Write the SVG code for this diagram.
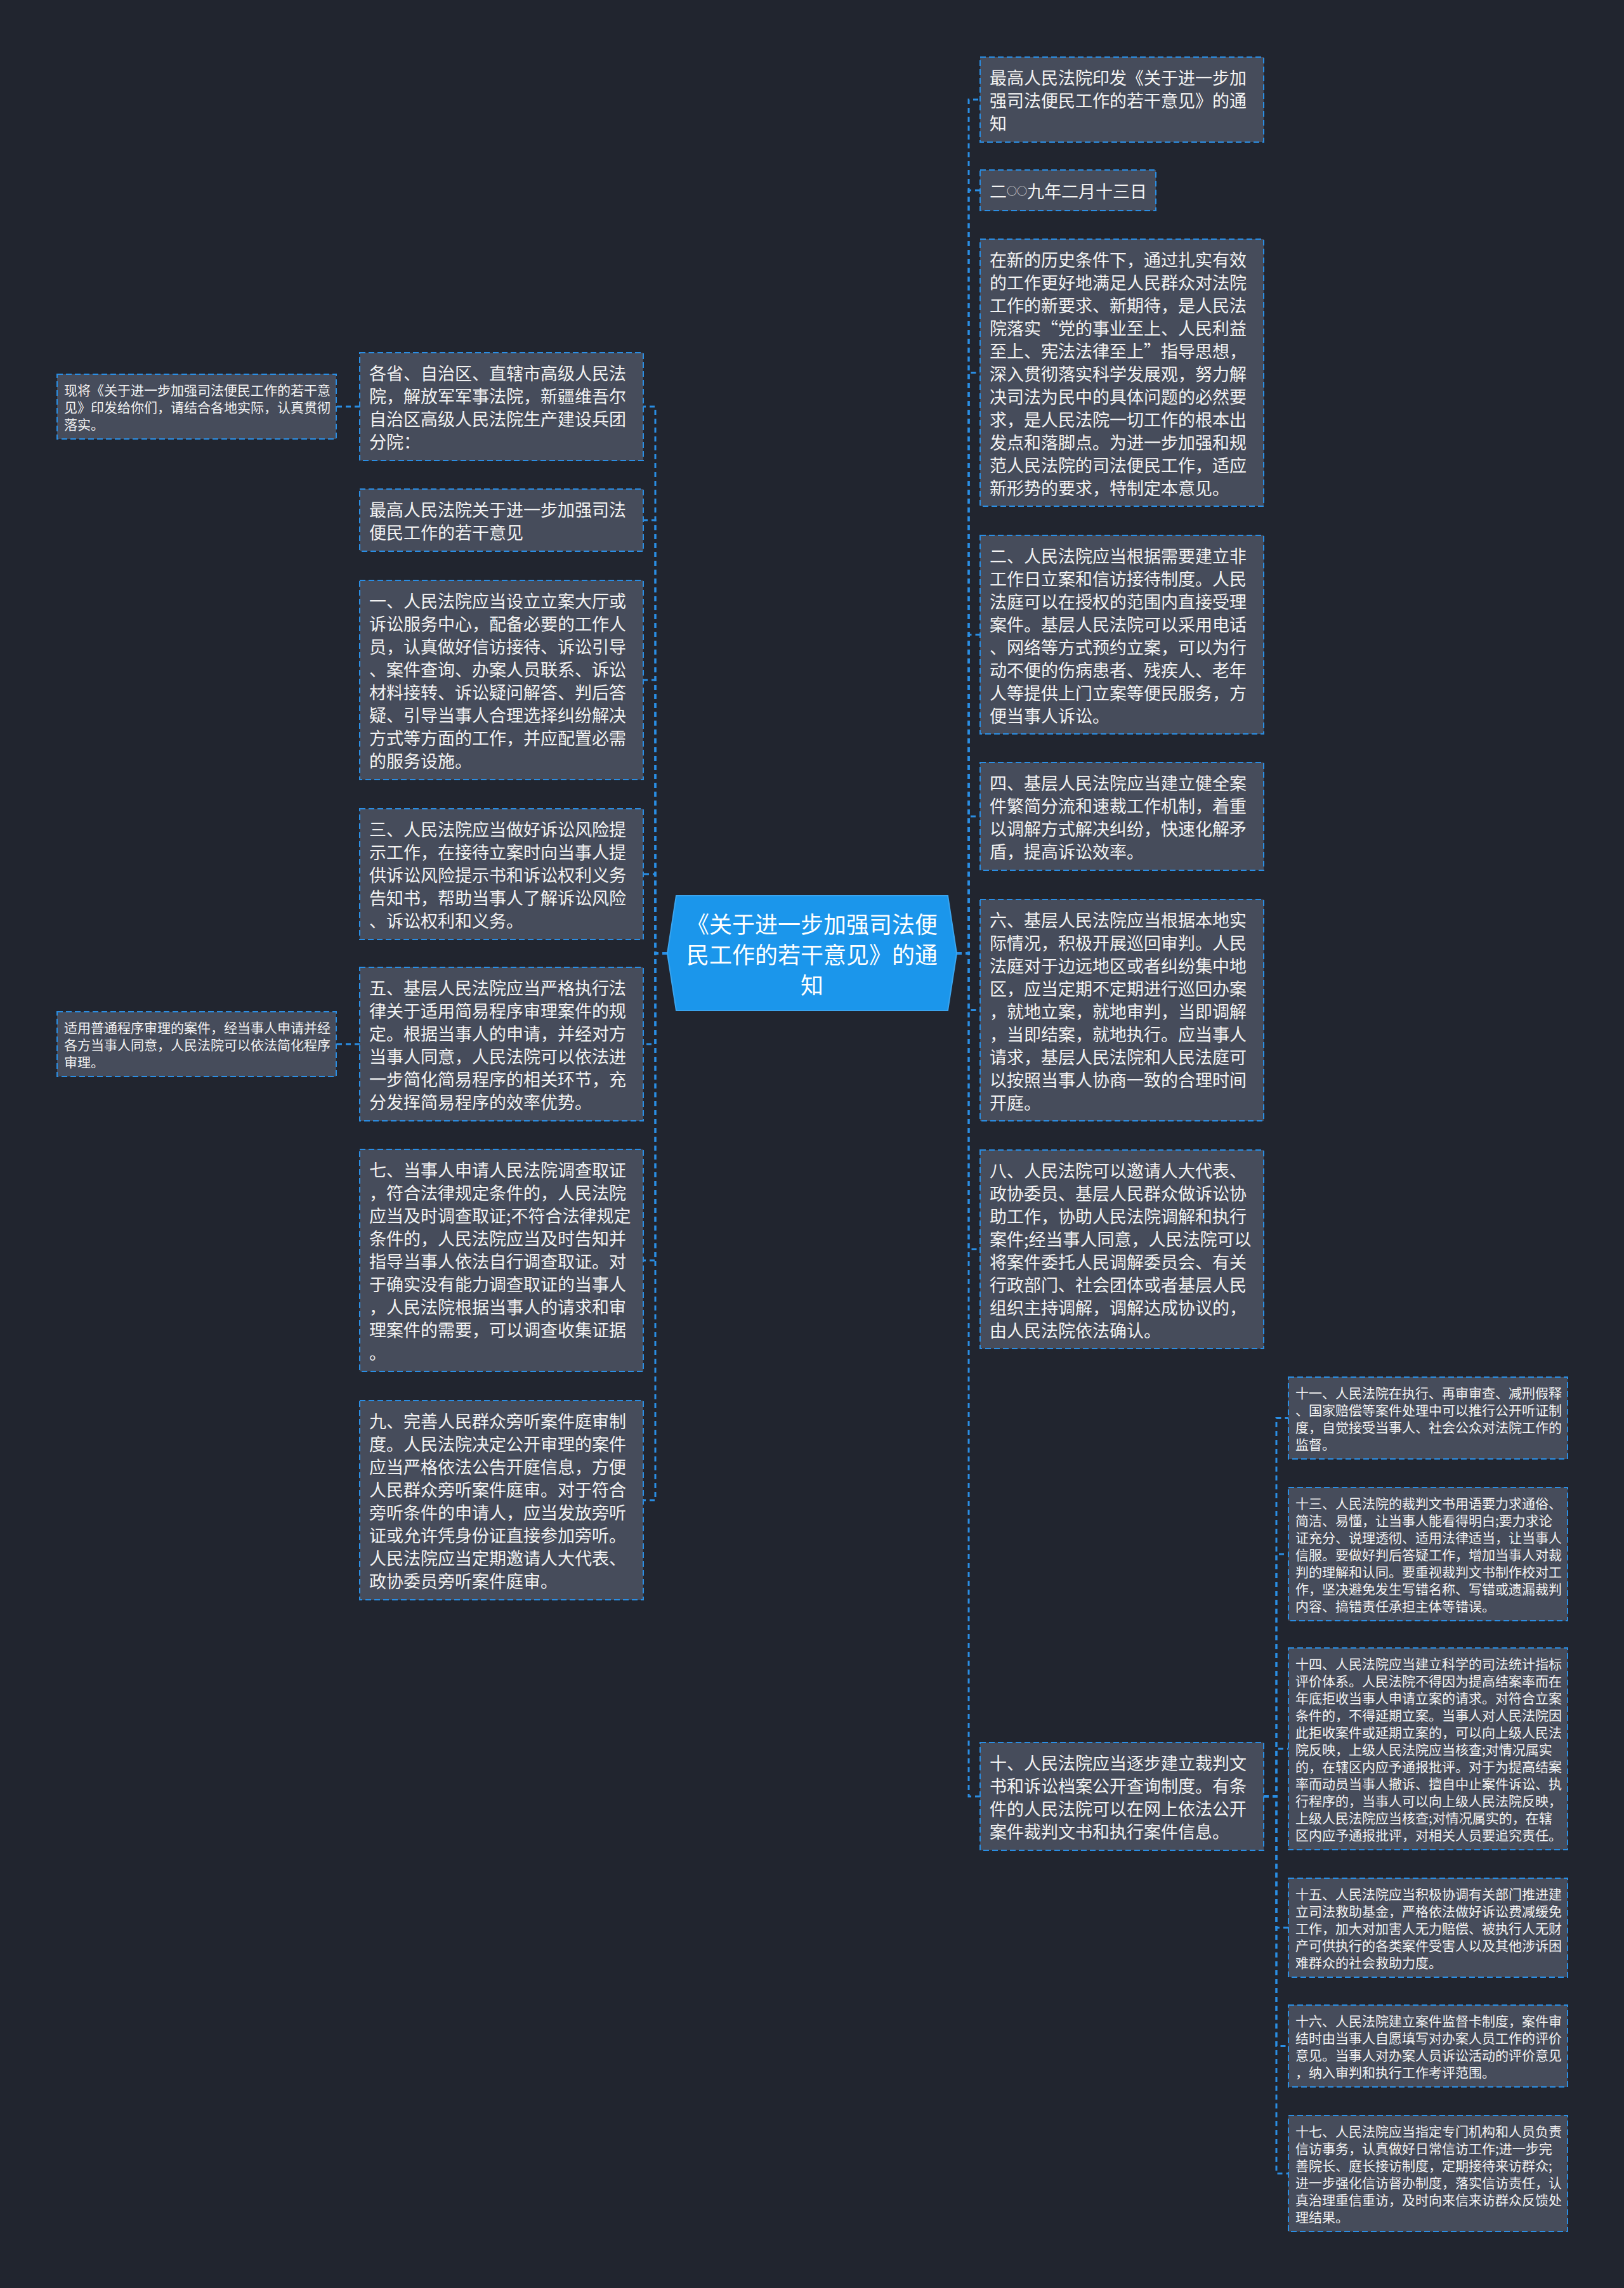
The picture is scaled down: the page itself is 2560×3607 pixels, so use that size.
<svg xmlns="http://www.w3.org/2000/svg" width="2560" height="3607" viewBox="0 0 2560 3607">
<style>
.bg{fill:#21252f}
.box{fill:#464c5b;stroke:#2a8ee4;stroke-width:2;stroke-dasharray:9 5}
.t{font-family:"Noto Sans CJK SC","Noto Sans",sans-serif;font-size:27px;fill:#f2f2f2;dominant-baseline:central}
.s{font-family:"Noto Sans CJK SC","Noto Sans",sans-serif;font-size:21px;fill:#f2f2f2;dominant-baseline:central}
.c{font-family:"Noto Sans CJK SC","Noto Sans",sans-serif;font-size:36px;fill:#ffffff;dominant-baseline:central;text-anchor:middle}
.ln{fill:none;stroke:#2a8ee4;stroke-width:3;stroke-dasharray:8 6}
</style>
<rect class="bg" x="0" y="0" width="2560" height="3607"/>
<g id="connectors">
<path class="ln" d="M1508 1503 H1527 V157 H1545"/>
<path class="ln" d="M1508 1503 H1527 V300 H1545"/>
<path class="ln" d="M1508 1503 H1527 V587.5 H1545"/>
<path class="ln" d="M1508 1503 H1527 V1000.5 H1545"/>
<path class="ln" d="M1508 1503 H1527 V1287 H1545"/>
<path class="ln" d="M1508 1503 H1527 V1592.5 H1545"/>
<path class="ln" d="M1508 1503 H1527 V1969.5 H1545"/>
<path class="ln" d="M1508 1503 H1527 V2832 H1545"/>
<path class="ln" d="M1052 1503 H1033 V641 H1014"/>
<path class="ln" d="M1052 1503 H1033 V820 H1014"/>
<path class="ln" d="M1052 1503 H1033 V1072 H1014"/>
<path class="ln" d="M1052 1503 H1033 V1378 H1014"/>
<path class="ln" d="M1052 1503 H1033 V1646 H1014"/>
<path class="ln" d="M1052 1503 H1033 V1987 H1014"/>
<path class="ln" d="M1052 1503 H1033 V2365 H1014"/>
<path class="ln" d="M567 641 H530"/>
<path class="ln" d="M567 1646 H530"/>
<path class="ln" d="M1992 2832 H2012 V2235.5 H2031"/>
<path class="ln" d="M1992 2832 H2012 V2450 H2031"/>
<path class="ln" d="M1992 2832 H2012 V2757 H2031"/>
<path class="ln" d="M1992 2832 H2012 V3039 H2031"/>
<path class="ln" d="M1992 2832 H2012 V3225.5 H2031"/>
<path class="ln" d="M1992 2832 H2012 V3426.5 H2031"/>
</g>
<g id="center">
<polygon points="1052,1503 1066,1412 1494,1412 1508,1503 1494,1593 1066,1593" fill="#1b96eb" stroke="#3aa4ee" stroke-width="2"/>
<text class="c" x="1280" y="1455">《关于进一步加强司法便</text>
<text class="c" x="1280" y="1503">民工作的若干意见》的通</text>
<text class="c" x="1280" y="1551">知</text>
</g>
<g id="nA">
<rect class="box" x="1545" y="90" width="447" height="134"/>
<text class="t" x="1560" y="121">最高人民法院印发《关于进一步加</text>
<text class="t" x="1560" y="157">强司法便民工作的若干意见》的通</text>
<text class="t" x="1560" y="193">知</text>
</g>
<g id="nB">
<rect class="box" x="1545" y="268" width="277" height="64"/>
<text class="t" x="1560" y="300">二<tspan font-size="16">○○</tspan>九年二月十三日</text>
</g>
<g id="nC">
<rect class="box" x="1545" y="377" width="447" height="421"/>
<text class="t" x="1560" y="408">在新的历史条件下，通过扎实有效</text>
<text class="t" x="1560" y="444">的工作更好地满足人民群众对法院</text>
<text class="t" x="1560" y="480">工作的新要求、新期待，是人民法</text>
<text class="t" x="1560" y="516">院落实“党的事业至上、人民利益</text>
<text class="t" x="1560" y="552">至上、宪法法律至上”指导思想，</text>
<text class="t" x="1560" y="588">深入贯彻落实科学发展观，努力解</text>
<text class="t" x="1560" y="624">决司法为民中的具体问题的必然要</text>
<text class="t" x="1560" y="660">求，是人民法院一切工作的根本出</text>
<text class="t" x="1560" y="696">发点和落脚点。为进一步加强和规</text>
<text class="t" x="1560" y="732">范人民法院的司法便民工作，适应</text>
<text class="t" x="1560" y="768">新形势的要求，特制定本意见。</text>
</g>
<g id="nD">
<rect class="box" x="1545" y="844" width="447" height="313"/>
<text class="t" x="1560" y="875">二、人民法院应当根据需要建立非</text>
<text class="t" x="1560" y="911">工作日立案和信访接待制度。人民</text>
<text class="t" x="1560" y="947">法庭可以在授权的范围内直接受理</text>
<text class="t" x="1560" y="983">案件。基层人民法院可以采用电话</text>
<text class="t" x="1560" y="1019">、网络等方式预约立案，可以为行</text>
<text class="t" x="1560" y="1055">动不便的伤病患者、残疾人、老年</text>
<text class="t" x="1560" y="1091">人等提供上门立案等便民服务，方</text>
<text class="t" x="1560" y="1127">便当事人诉讼。</text>
</g>
<g id="nE">
<rect class="box" x="1545" y="1202" width="447" height="170"/>
<text class="t" x="1560" y="1233">四、基层人民法院应当建立健全案</text>
<text class="t" x="1560" y="1269">件繁简分流和速裁工作机制，着重</text>
<text class="t" x="1560" y="1305">以调解方式解决纠纷，快速化解矛</text>
<text class="t" x="1560" y="1341">盾，提高诉讼效率。</text>
</g>
<g id="nF">
<rect class="box" x="1545" y="1418" width="447" height="349"/>
<text class="t" x="1560" y="1449">六、基层人民法院应当根据本地实</text>
<text class="t" x="1560" y="1485">际情况，积极开展巡回审判。人民</text>
<text class="t" x="1560" y="1521">法庭对于边远地区或者纠纷集中地</text>
<text class="t" x="1560" y="1557">区，应当定期不定期进行巡回办案</text>
<text class="t" x="1560" y="1593">，就地立案，就地审判，当即调解</text>
<text class="t" x="1560" y="1629">，当即结案，就地执行。应当事人</text>
<text class="t" x="1560" y="1665">请求，基层人民法院和人民法庭可</text>
<text class="t" x="1560" y="1701">以按照当事人协商一致的合理时间</text>
<text class="t" x="1560" y="1737">开庭。</text>
</g>
<g id="nG">
<rect class="box" x="1545" y="1813" width="447" height="313"/>
<text class="t" x="1560" y="1844">八、人民法院可以邀请人大代表、</text>
<text class="t" x="1560" y="1880">政协委员、基层人民群众做诉讼协</text>
<text class="t" x="1560" y="1916">助工作，协助人民法院调解和执行</text>
<text class="t" x="1560" y="1952">案件;经当事人同意，人民法院可以</text>
<text class="t" x="1560" y="1988">将案件委托人民调解委员会、有关</text>
<text class="t" x="1560" y="2024">行政部门、社会团体或者基层人民</text>
<text class="t" x="1560" y="2060">组织主持调解，调解达成协议的，</text>
<text class="t" x="1560" y="2096">由人民法院依法确认。</text>
</g>
<g id="nH">
<rect class="box" x="1545" y="2747" width="447" height="170"/>
<text class="t" x="1560" y="2778">十、人民法院应当逐步建立裁判文</text>
<text class="t" x="1560" y="2814">书和诉讼档案公开查询制度。有条</text>
<text class="t" x="1560" y="2850">件的人民法院可以在网上依法公开</text>
<text class="t" x="1560" y="2886">案件裁判文书和执行案件信息。</text>
</g>
<g id="nI">
<rect class="box" x="2031" y="2171" width="440" height="129"/>
<text class="s" x="2042" y="2195">十一、人民法院在执行、再审审查、减刑假释</text>
<text class="s" x="2042" y="2222">、国家赔偿等案件处理中可以推行公开听证制</text>
<text class="s" x="2042" y="2249">度，自觉接受当事人、社会公众对法院工作的</text>
<text class="s" x="2042" y="2276">监督。</text>
</g>
<g id="nJ">
<rect class="box" x="2031" y="2345" width="440" height="210"/>
<text class="s" x="2042" y="2369">十三、人民法院的裁判文书用语要力求通俗、</text>
<text class="s" x="2042" y="2396">简洁、易懂，让当事人能看得明白;要力求论</text>
<text class="s" x="2042" y="2423">证充分、说理透彻、适用法律适当，让当事人</text>
<text class="s" x="2042" y="2450">信服。要做好判后答疑工作，增加当事人对裁</text>
<text class="s" x="2042" y="2477">判的理解和认同。要重视裁判文书制作校对工</text>
<text class="s" x="2042" y="2504">作，坚决避免发生写错名称、写错或遗漏裁判</text>
<text class="s" x="2042" y="2531">内容、搞错责任承担主体等错误。</text>
</g>
<g id="nK">
<rect class="box" x="2031" y="2598" width="440" height="318"/>
<text class="s" x="2042" y="2622">十四、人民法院应当建立科学的司法统计指标</text>
<text class="s" x="2042" y="2649">评价体系。人民法院不得因为提高结案率而在</text>
<text class="s" x="2042" y="2676">年底拒收当事人申请立案的请求。对符合立案</text>
<text class="s" x="2042" y="2703">条件的，不得延期立案。当事人对人民法院因</text>
<text class="s" x="2042" y="2730">此拒收案件或延期立案的，可以向上级人民法</text>
<text class="s" x="2042" y="2757">院反映，上级人民法院应当核查;对情况属实</text>
<text class="s" x="2042" y="2784">的，在辖区内应予通报批评。对于为提高结案</text>
<text class="s" x="2042" y="2811">率而动员当事人撤诉、擅自中止案件诉讼、执</text>
<text class="s" x="2042" y="2838">行程序的，当事人可以向上级人民法院反映，</text>
<text class="s" x="2042" y="2865">上级人民法院应当核查;对情况属实的，在辖</text>
<text class="s" x="2042" y="2892">区内应予通报批评，对相关人员要追究责任。</text>
</g>
<g id="nL">
<rect class="box" x="2031" y="2961" width="440" height="156"/>
<text class="s" x="2042" y="2985">十五、人民法院应当积极协调有关部门推进建</text>
<text class="s" x="2042" y="3012">立司法救助基金，严格依法做好诉讼费减缓免</text>
<text class="s" x="2042" y="3039">工作，加大对加害人无力赔偿、被执行人无财</text>
<text class="s" x="2042" y="3066">产可供执行的各类案件受害人以及其他涉诉困</text>
<text class="s" x="2042" y="3093">难群众的社会救助力度。</text>
</g>
<g id="nM">
<rect class="box" x="2031" y="3161" width="440" height="129"/>
<text class="s" x="2042" y="3185">十六、人民法院建立案件监督卡制度，案件审</text>
<text class="s" x="2042" y="3212">结时由当事人自愿填写对办案人员工作的评价</text>
<text class="s" x="2042" y="3239">意见。当事人对办案人员诉讼活动的评价意见</text>
<text class="s" x="2042" y="3266">，纳入审判和执行工作考评范围。</text>
</g>
<g id="nN">
<rect class="box" x="2031" y="3335" width="440" height="183"/>
<text class="s" x="2042" y="3359">十七、人民法院应当指定专门机构和人员负责</text>
<text class="s" x="2042" y="3386">信访事务，认真做好日常信访工作;进一步完</text>
<text class="s" x="2042" y="3413">善院长、庭长接访制度，定期接待来访群众;</text>
<text class="s" x="2042" y="3440">进一步强化信访督办制度，落实信访责任，认</text>
<text class="s" x="2042" y="3467">真治理重信重访，及时向来信来访群众反馈处</text>
<text class="s" x="2042" y="3494">理结果。</text>
</g>
<g id="nP">
<rect class="box" x="567" y="556" width="447" height="170"/>
<text class="t" x="582" y="587">各省、自治区、直辖市高级人民法</text>
<text class="t" x="582" y="623">院，解放军军事法院，新疆维吾尔</text>
<text class="t" x="582" y="659">自治区高级人民法院生产建设兵团</text>
<text class="t" x="582" y="695">分院：</text>
</g>
<g id="nQ">
<rect class="box" x="90" y="590" width="440" height="102"/>
<text class="s" x="101" y="614">现将《关于进一步加强司法便民工作的若干意</text>
<text class="s" x="101" y="641">见》印发给你们，请结合各地实际，认真贯彻</text>
<text class="s" x="101" y="668">落实。</text>
</g>
<g id="nR">
<rect class="box" x="567" y="771" width="447" height="98"/>
<text class="t" x="582" y="802">最高人民法院关于进一步加强司法</text>
<text class="t" x="582" y="838">便民工作的若干意见</text>
</g>
<g id="nS">
<rect class="box" x="567" y="915" width="447" height="314"/>
<text class="t" x="582" y="946">一、人民法院应当设立立案大厅或</text>
<text class="t" x="582" y="982">诉讼服务中心，配备必要的工作人</text>
<text class="t" x="582" y="1018">员，认真做好信访接待、诉讼引导</text>
<text class="t" x="582" y="1054">、案件查询、办案人员联系、诉讼</text>
<text class="t" x="582" y="1090">材料接转、诉讼疑问解答、判后答</text>
<text class="t" x="582" y="1126">疑、引导当事人合理选择纠纷解决</text>
<text class="t" x="582" y="1162">方式等方面的工作，并应配置必需</text>
<text class="t" x="582" y="1198">的服务设施。</text>
</g>
<g id="nT">
<rect class="box" x="567" y="1275" width="447" height="206"/>
<text class="t" x="582" y="1306">三、人民法院应当做好诉讼风险提</text>
<text class="t" x="582" y="1342">示工作，在接待立案时向当事人提</text>
<text class="t" x="582" y="1378">供诉讼风险提示书和诉讼权利义务</text>
<text class="t" x="582" y="1414">告知书，帮助当事人了解诉讼风险</text>
<text class="t" x="582" y="1450">、诉讼权利和义务。</text>
</g>
<g id="nU">
<rect class="box" x="567" y="1525" width="447" height="242"/>
<text class="t" x="582" y="1556">五、基层人民法院应当严格执行法</text>
<text class="t" x="582" y="1592">律关于适用简易程序审理案件的规</text>
<text class="t" x="582" y="1628">定。根据当事人的申请，并经对方</text>
<text class="t" x="582" y="1664">当事人同意，人民法院可以依法进</text>
<text class="t" x="582" y="1700">一步简化简易程序的相关环节，充</text>
<text class="t" x="582" y="1736">分发挥简易程序的效率优势。</text>
</g>
<g id="nV">
<rect class="box" x="90" y="1595" width="440" height="102"/>
<text class="s" x="101" y="1619">适用普通程序审理的案件，经当事人申请并经</text>
<text class="s" x="101" y="1646">各方当事人同意，人民法院可以依法简化程序</text>
<text class="s" x="101" y="1673">审理。</text>
</g>
<g id="nW">
<rect class="box" x="567" y="1812" width="447" height="350"/>
<text class="t" x="582" y="1843">七、当事人申请人民法院调查取证</text>
<text class="t" x="582" y="1879">，符合法律规定条件的，人民法院</text>
<text class="t" x="582" y="1915">应当及时调查取证;不符合法律规定</text>
<text class="t" x="582" y="1951">条件的，人民法院应当及时告知并</text>
<text class="t" x="582" y="1987">指导当事人依法自行调查取证。对</text>
<text class="t" x="582" y="2023">于确实没有能力调查取证的当事人</text>
<text class="t" x="582" y="2059">，人民法院根据当事人的请求和审</text>
<text class="t" x="582" y="2095">理案件的需要，可以调查收集证据</text>
<text class="t" x="582" y="2131">。</text>
</g>
<g id="nX">
<rect class="box" x="567" y="2208" width="447" height="314"/>
<text class="t" x="582" y="2239">九、完善人民群众旁听案件庭审制</text>
<text class="t" x="582" y="2275">度。人民法院决定公开审理的案件</text>
<text class="t" x="582" y="2311">应当严格依法公告开庭信息，方便</text>
<text class="t" x="582" y="2347">人民群众旁听案件庭审。对于符合</text>
<text class="t" x="582" y="2383">旁听条件的申请人，应当发放旁听</text>
<text class="t" x="582" y="2419">证或允许凭身份证直接参加旁听。</text>
<text class="t" x="582" y="2455">人民法院应当定期邀请人大代表、</text>
<text class="t" x="582" y="2491">政协委员旁听案件庭审。</text>
</g>
</svg>
